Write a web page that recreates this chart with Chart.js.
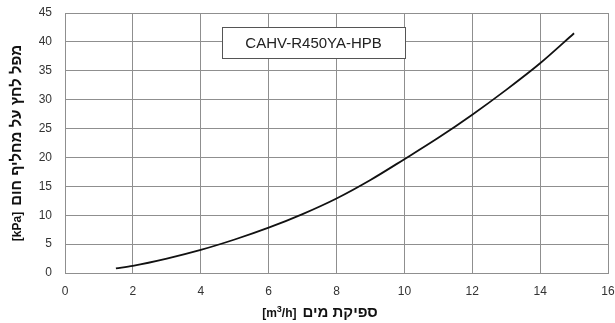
<!DOCTYPE html>
<html>
<head>
<meta charset="utf-8">
<script src="https://cdn.jsdelivr.net/npm/chart.js@4"></script>
<style>
  html, body { margin: 0; padding: 0; background: #fff; }
  #wrap { width: 615px; height: 323px; }
</style>
</head>
<body>
<div id="wrap"><canvas id="chart" width="615" height="323"></canvas></div>
<script>
// ── Data ──
const flow = [1.5, 2, 3, 4, 5, 6, 7, 8, 9, 10, 11, 12, 13, 14, 15];
const pressureDrop = [0.8, 1.25, 2.5, 4.0, 5.8, 7.85, 10.2, 12.9, 16.1, 19.7, 23.4, 27.4, 31.7, 36.3, 41.5];
const xTicks = [0, 2, 4, 6, 8, 10, 12, 14, 16];
const yTicks = [0, 5, 10, 15, 20, 25, 30, 35, 40, 45];
const modelName = 'CAHV-R450YA-HPB';
const xTitle = 'ספיקת מים';
const yTitle = 'מפל לחץ על מחליף חום';

const gridColor = '#8f8f8f';
const tickFont = { family: 'Arial, "Liberation Sans", sans-serif', size: 12 };

// ── Titles + model box ──
const decorations = {
  id: 'decorations',
  afterDraw(chart) {
    const { ctx, chartArea, scales } = chart;
    const x = scales.x, y = scales.y;
    ctx.save();

    // model label box
    const bx1 = x.getPixelForValue(4.63), bx2 = x.getPixelForValue(10.02);
    const by1 = y.getPixelForValue(42.5), by2 = y.getPixelForValue(37.15);
    ctx.fillStyle = '#fff';
    ctx.fillRect(bx1, by1, bx2 - bx1, by2 - by1);
    ctx.strokeStyle = '#555';
    ctx.lineWidth = 1;
    ctx.strokeRect(Math.round(bx1) + 0.5, Math.round(by1) + 0.5, Math.round(bx2 - bx1), Math.round(by2 - by1));
    ctx.fillStyle = '#222';
    ctx.font = '15px Arial, "Liberation Sans", sans-serif';
    ctx.textAlign = 'center';
    ctx.textBaseline = 'middle';
    ctx.fillText(modelName, (bx1 + bx2) / 2, (by1 + by2) / 2 + 1);

    // x title: "[m3/h] ספיקת מים"
    ctx.fillStyle = '#111';
    ctx.textBaseline = 'alphabetic';
    ctx.textAlign = 'left';
    const heb = 'bold 15px Arial, "Liberation Sans", sans-serif';
    const unit = 'bold 12px Arial, "Liberation Sans", sans-serif';
    const sup = 'bold 9px Arial, "Liberation Sans", sans-serif';
    ctx.font = heb;
    const hw = ctx.measureText(xTitle).width;
    ctx.font = unit;
    const w1 = ctx.measureText('[m').width;
    ctx.font = sup;
    const w2 = ctx.measureText('3').width;
    ctx.font = unit;
    const w3 = ctx.measureText('/h]').width;
    const total = w1 + w2 + w3 + 6 + hw;
    let cx = 320 - total / 2;
    const ty = 317;
    ctx.font = unit; ctx.fillText('[m', cx, ty); cx += w1;
    ctx.font = sup; ctx.fillText('3', cx, ty - 5); cx += w2;
    ctx.font = unit; ctx.fillText('/h]', cx, ty); cx += w3 + 6;
    ctx.font = heb; ctx.fillText(xTitle, cx, ty);

    // y title rotated: "[kPa] מפל לחץ על מחליף חום"
    ctx.translate(21, (chartArea.top + chartArea.bottom) / 2);
    ctx.rotate(-Math.PI / 2);
    ctx.font = heb;
    const yh = ctx.measureText(yTitle).width;
    ctx.font = unit;
    const yu = ctx.measureText('[kPa]').width;
    let cy = -(yh + yu + 6) / 2;
    ctx.fillText('[kPa]', cy, 0); cy += yu + 6;
    ctx.font = heb; ctx.fillText(yTitle, cy, 0);
    ctx.restore();
  }
};

new Chart(document.getElementById('chart'), {
  type: 'line',
  data: {
    datasets: [{
      data: flow.map((f, i) => ({ x: f, y: pressureDrop[i] })),
      borderColor: '#111',
      borderWidth: 1.8,
      pointRadius: 0,
      fill: false,
      cubicInterpolationMode: 'monotone'
    }]
  },
  options: {
    responsive: false,
    animation: false,
    layout: { padding: { top: 13, right: 7, left: 0, bottom: 0 } },
    plugins: { legend: { display: false }, tooltip: { enabled: false } },
    scales: {
      x: {
        type: 'linear',
        min: 0, max: 16,
        afterBuildTicks: s => { s.ticks = xTicks.map(v => ({ value: v })); },
        afterFit: s => { s.height = 50; s.paddingLeft = 0; s.paddingRight = 0; },
        grid: { color: gridColor, lineWidth: 1, drawTicks: false },
        border: { color: gridColor },
        ticks: { color: '#333', font: tickFont, padding: 11, maxRotation: 0 }
      },
      y: {
        min: 0, max: 45,
        afterBuildTicks: s => { s.ticks = yTicks.map(v => ({ value: v })); },
        afterFit: s => { s.width = 65; s.paddingTop = 0; s.paddingBottom = 0; },
        grid: { color: gridColor, lineWidth: 1, drawTicks: false },
        border: { color: gridColor },
        ticks: { color: '#333', font: tickFont, padding: 13 }
      }
    }
  },
  plugins: [decorations]
});
</script>
</body>
</html>
